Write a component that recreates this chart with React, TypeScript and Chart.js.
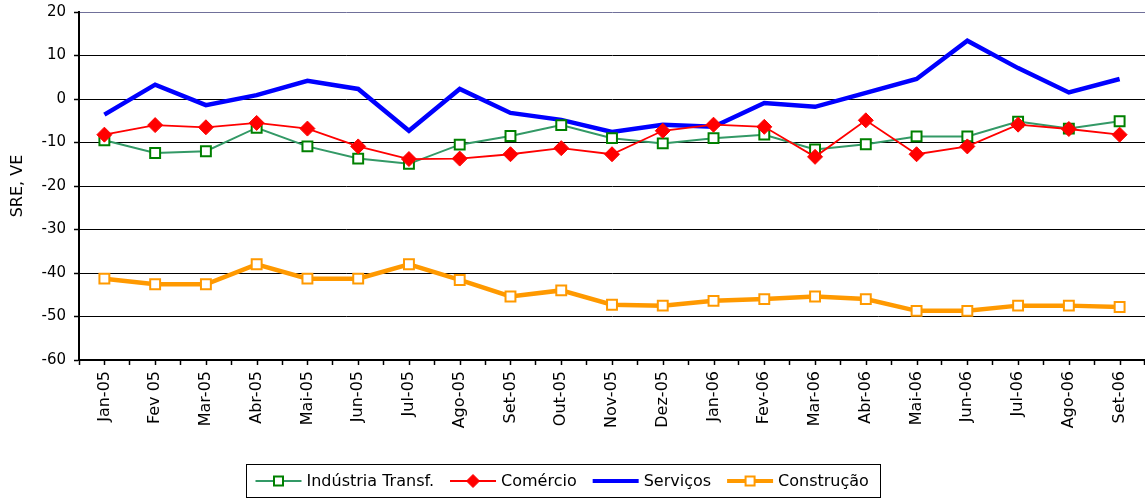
import React, { useEffect, useRef } from "react";
import { Chart, registerables } from "chart.js";

Chart.register(...registerables);

const categories = [
  "Jan-05", "Fev 05", "Mar-05", "Abr-05", "Mai-05", "Jun-05", "Jul-05",
  "Ago-05", "Set-05", "Out-05", "Nov-05", "Dez-05", "Jan-06", "Fev-06",
  "Mar-06", "Abr-06", "Mai-06", "Jun-06", "Jul-06", "Ago-06", "Set-06",
];

const industria = [-9.5, -12.4, -12.0, -6.6, -10.9, -13.7, -14.9, -10.5, -8.5, -6.0, -9.0, -10.2, -9.0, -8.2, -11.6, -10.4, -8.6, -8.6, -5.2, -6.8, -5.1];
const comercio = [-8.2, -6.0, -6.5, -5.5, -6.8, -10.9, -13.8, -13.7, -12.7, -11.3, -12.7, -7.3, -5.9, -6.4, -13.3, -4.9, -12.7, -10.9, -5.9, -6.9, -8.2];
const servicos = [-3.6, 3.3, -1.4, 0.9, 4.2, 2.3, -7.3, 2.3, -3.2, -4.8, -7.6, -5.9, -6.4, -0.9, -1.8, 1.4, 4.6, 13.4, 7.1, 1.5, 4.6];
const construcao = [-41.3, -42.6, -42.6, -38.0, -41.3, -41.3, -38.0, -41.6, -45.4, -44.0, -47.3, -47.5, -46.4, -46.0, -45.4, -46.0, -48.7, -48.7, -47.5, -47.5, -47.8];

const yMin = -60;
const yMax = 20;
const yStep = 10;
const yTitle = "SRE, VE";

const FONT = '"DejaVu Sans", "Liberation Sans", Arial, sans-serif';

type LegendItem = {
  label: string;
  line: string;
  lineWidth: number;
  marker: "rect" | "diamond" | "none";
  markerStroke: string;
  markerFill: string;
};

const legendItems: LegendItem[] = [
  { label: "Indústria Transf.", line: "#339966", lineWidth: 2, marker: "rect", markerStroke: "#008000", markerFill: "#ffffff" },
  { label: "Comércio", line: "#ff0000", lineWidth: 2, marker: "diamond", markerStroke: "#ff0000", markerFill: "#ff0000" },
  { label: "Serviços", line: "#0000ff", lineWidth: 4, marker: "none", markerStroke: "#0000ff", markerFill: "#0000ff" },
  { label: "Construção", line: "#ff9900", lineWidth: 4, marker: "rect", markerStroke: "#ff9900", markerFill: "#ffffff" },
];

const centerTicksPlugin = {
  id: "centerTicks",
  afterDraw(chart: any) {
    const xs = chart.scales.x;
    const ctx = chart.ctx;
    const bottom = chart.chartArea.bottom;
    ctx.save();
    ctx.strokeStyle = "#000000";
    ctx.lineWidth = 1.5;
    for (let i = 0; i < categories.length; i++) {
      const x = Math.round(xs.getPixelForValue(i)) + 0.5;
      ctx.beginPath();
      ctx.moveTo(x, bottom);
      ctx.lineTo(x, bottom + 5);
      ctx.stroke();
    }
    ctx.restore();
  },
};

const boxLegendPlugin = {
  id: "boxLegend",
  afterDraw(chart: any) {
    const ctx = chart.ctx;
    ctx.save();
    ctx.font = "16px " + FONT;
    const lineLen = 46;
    const gapText = 5;
    const gapItem = 16;
    const padL = 9;
    const padR = 12;
    const widths = legendItems.map((it) => ctx.measureText(it.label).width);
    let total = padL + padR;
    widths.forEach((w, i) => {
      total += lineLen + gapText + w + (i > 0 ? gapItem : 0);
    });
    const centerX = 563;
    const left = Math.round(centerX - total / 2) + 0.5;
    const top = 464.5;
    const h = 33;
    ctx.strokeStyle = "#000000";
    ctx.lineWidth = 1;
    ctx.strokeRect(left, top, Math.round(total), h);
    const cy = top + h / 2;
    let x = left + padL;
    legendItems.forEach((it, i) => {
      if (i > 0) x += gapItem;
      ctx.strokeStyle = it.line;
      ctx.lineWidth = it.lineWidth;
      ctx.beginPath();
      ctx.moveTo(x, cy);
      ctx.lineTo(x + lineLen, cy);
      ctx.stroke();
      const mx = x + lineLen / 2;
      if (it.marker === "rect") {
        ctx.fillStyle = it.markerFill;
        ctx.strokeStyle = it.markerStroke;
        ctx.lineWidth = 2;
        ctx.beginPath();
        ctx.rect(mx - 4.5, cy - 4.5, 9, 9);
        ctx.fill();
        ctx.stroke();
      } else if (it.marker === "diamond") {
        ctx.fillStyle = it.markerFill;
        ctx.strokeStyle = it.markerStroke;
        ctx.lineWidth = 1;
        ctx.beginPath();
        ctx.moveTo(mx - 6.5, cy);
        ctx.lineTo(mx, cy - 6.5);
        ctx.lineTo(mx + 6.5, cy);
        ctx.lineTo(mx, cy + 6.5);
        ctx.closePath();
        ctx.fill();
        ctx.stroke();
      }
      x += lineLen + gapText;
      ctx.fillStyle = "#000000";
      ctx.textAlign = "left";
      ctx.textBaseline = "middle";
      ctx.fillText(it.label, x, cy + 1);
      x += widths[i];
    });
    ctx.restore();
  },
};

export default function App() {
  const canvasRef = useRef<HTMLCanvasElement | null>(null);

  useEffect(() => {
    document.body.style.margin = "0";
    document.body.style.overflow = "hidden";
    const canvas = canvasRef.current;
    if (!canvas) return;
    const chart = new Chart(canvas, {
      type: "line",
      data: {
        labels: categories,
        datasets: [
          {
            label: legendItems[0].label,
            data: industria,
            borderColor: "#339966",
            borderWidth: 2,
            pointStyle: "rect",
            pointRadius: 7,
            pointBorderWidth: 2,
            pointBorderColor: "#008000",
            pointBackgroundColor: "#ffffff",
            order: 1,
          },
          {
            label: legendItems[1].label,
            data: comercio,
            borderColor: "#ff0000",
            borderWidth: 1.8,
            pointStyle: "rectRot",
            pointRadius: 7.5,
            pointBorderWidth: 1,
            pointBorderColor: "#ff0000",
            pointBackgroundColor: "#ff0000",
            order: 0,
          },
          {
            label: legendItems[2].label,
            data: servicos,
            borderColor: "#0000ff",
            borderWidth: 4.5,
            pointRadius: 0,
            order: 2,
          },
          {
            label: legendItems[3].label,
            data: construcao,
            borderColor: "#ff9900",
            borderWidth: 4.5,
            pointStyle: "rect",
            pointRadius: 7,
            pointBorderWidth: 2,
            pointBorderColor: "#ff9900",
            pointBackgroundColor: "#ffffff",
            order: 3,
          },
        ],
      },
      options: {
        responsive: false,
        animation: false,
        events: [],
        layout: { autoPadding: false, padding: { top: 12, right: 0, bottom: 0, left: 0 } },
        elements: { line: { tension: 0 } },
        plugins: {
          legend: { display: false },
          tooltip: { enabled: false },
        },
        scales: {
          x: {
            type: "category",
            offset: true,
            afterFit(scale: any) {
              scale.height = 139;
              scale.paddingLeft = 0;
              scale.paddingRight = 0;
            },
            grid: {
              display: true,
              drawOnChartArea: false,
              drawTicks: true,
              tickLength: 5,
              offset: true,
              tickColor: "#000000",
              tickWidth: 1.5,
            },
            border: { display: true, color: "#000000", width: 2 },
            ticks: {
              autoSkip: false,
              minRotation: 90,
              maxRotation: 90,
              padding: 6,
              color: "#000000",
              font: { family: FONT, size: 16 },
            },
          },
          y: {
            min: yMin,
            max: yMax,
            afterFit(scale: any) {
              scale.width = 79;
              scale.paddingTop = 0;
              scale.paddingBottom = 0;
            },
            title: {
              display: true,
              text: yTitle,
              color: "#000000",
              font: { family: FONT, size: 16 },
              padding: { top: 8, bottom: 0 },
            },
            grid: {
              color: (c: any) => (c.tick && c.tick.value === yMax ? "#70709a" : "#000000"),
              lineWidth: 1,
              borderDash: [2, 2],
              drawTicks: true,
              tickLength: 5,
              tickColor: "#000000",
              tickWidth: 1.5,
              tickBorderDash: [],
            },
            border: { display: true, color: "#000000", width: 2 },
            ticks: {
              stepSize: yStep,
              padding: 8,
              color: "#000000",
              font: { family: FONT, size: 15 },
            },
          },
        },
      },
      plugins: [centerTicksPlugin, boxLegendPlugin],
    } as any);
    return () => {
      chart.destroy();
    };
  }, []);

  return (
    <div style={{ width: 1145, height: 499, background: "#ffffff" }}>
      <canvas ref={canvasRef} width={1145} height={499} style={{ display: "block" }} />
    </div>
  );
}
